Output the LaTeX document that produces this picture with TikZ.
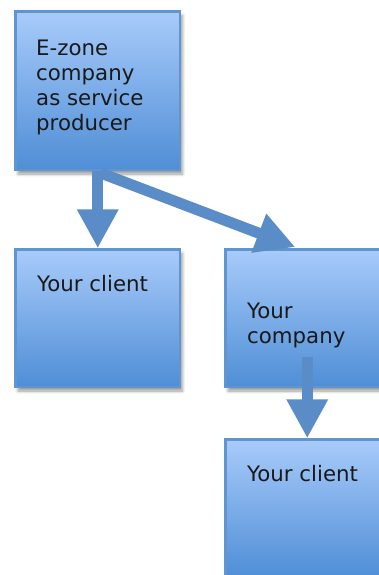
\documentclass[tikz,border=0pt]{standalone}
\usepackage{fontspec}
\setmainfont{DejaVu Sans}
\usetikzlibrary{arrows.meta,calc,shadows.blur}
\definecolor{boxtop}{HTML}{A8CBFA}
\definecolor{boxbot}{HTML}{4F8ED6}
\definecolor{boxedge}{HTML}{6096D0}
\definecolor{arrowc}{HTML}{5A8DC8}
\begin{document}
\begin{tikzpicture}[
  blockbox/.style={rectangle, anchor=north west, inner sep=0pt,
    top color=boxtop, bottom color=boxbot, draw=boxedge, line width=2.5pt,
    minimum width=164.5pt,
    blur shadow={shadow xshift=2.5pt, shadow yshift=-4pt, shadow blur steps=6, shadow blur radius=3pt, shadow opacity=40}},
  label/.style={anchor=base west, inner sep=0pt, align=left, text=black!90,
    font=\fontsize{21.3}{25}\selectfont},
  blockarrow/.style={draw=arrowc, line width=11pt,
    -{Triangle[width=39pt,length=39pt]}}
]
\useasboundingbox (0pt,0pt) rectangle (379pt,-575pt);
\clip (0pt,0pt) rectangle (379pt,-575pt);
% boxes
\node[blockbox, minimum height=158.5pt] (A) at (14.25pt,-10.25pt) {};
\node[blockbox, minimum height=137.5pt] (B) at (14.25pt,-248.25pt) {};
\node[blockbox, minimum height=137.5pt] (C) at (224.25pt,-248.25pt) {};
\node[blockbox, minimum height=137.5pt] (D) at (224.25pt,-438.25pt) {};
% texts (anchored at the baseline of the last line)
\node[label] (tA) at (36pt,-131pt) {E-zone\\company\\as service\\producer};
\node[label] (tB) at (37pt,-291pt) {Your client};
\node[label] (tC) at (247pt,-343pt) {Your\\company};
\node[label] (tD) at (247pt,-481pt) {Your client};
% connectors
\coordinate (a2start) at ($(A.south)+(3.5pt,-2pt)$);
\coordinate (a2end) at ($(C.north west)+(71pt,1.2pt)$);
\coordinate (a3start) at ($(C.north west)+(83pt,-109pt)$);
\draw[blockarrow] (A.south) -- (B.north);
\draw[blockarrow] (a2start) -- (a2end);
\draw[blockarrow] (a3start) -- (a3start |- D.north);
\end{tikzpicture}
\end{document}
